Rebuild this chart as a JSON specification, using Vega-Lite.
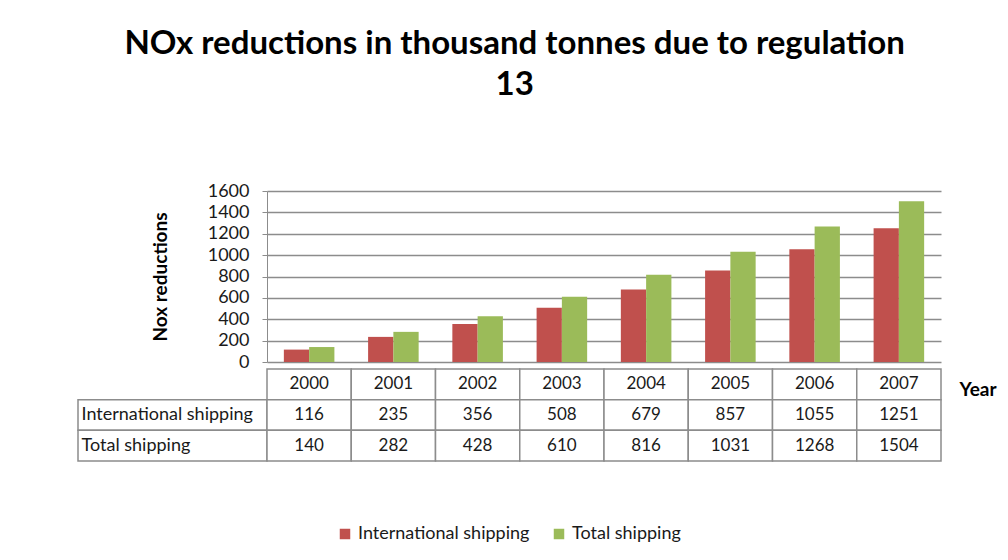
{
  "$schema": "https://vega.github.io/schema/vega-lite/v6.json",
  "background": "white",
  "padding": {"left": 77, "top": 28, "right": 5, "bottom": 5},
  "title": {
    "text": ["NOx reductions in thousand tonnes due to regulation", "13"],
    "fontSize": 33,
    "lineHeight": 41,
    "font": "Lato",
    "fontWeight": "bold",
    "color": "#000000",
    "anchor": "middle",
    "dx": -22,
    "offset": 80
  },
  "datasets": {
    "d": [
      {"year": "2000", "series": "International shipping", "value": 116},
      {"year": "2001", "series": "International shipping", "value": 235},
      {"year": "2002", "series": "International shipping", "value": 356},
      {"year": "2003", "series": "International shipping", "value": 508},
      {"year": "2004", "series": "International shipping", "value": 679},
      {"year": "2005", "series": "International shipping", "value": 857},
      {"year": "2006", "series": "International shipping", "value": 1055},
      {"year": "2007", "series": "International shipping", "value": 1251},
      {"year": "2000", "series": "Total shipping", "value": 140},
      {"year": "2001", "series": "Total shipping", "value": 282},
      {"year": "2002", "series": "Total shipping", "value": 428},
      {"year": "2003", "series": "Total shipping", "value": 610},
      {"year": "2004", "series": "Total shipping", "value": 816},
      {"year": "2005", "series": "Total shipping", "value": 1031},
      {"year": "2006", "series": "Total shipping", "value": 1268},
      {"year": "2007", "series": "Total shipping", "value": 1504}
    ]
  },
  "columns": 2,
  "bounds": "flush",
  "spacing": {"row": 7, "column": 0},
  "concat": [
    {
      "width": 189,
      "height": 171,
      "data": {"values": []},
      "mark": {"type": "point", "opacity": 0},
      "encoding": {}
    },
    {
      "width": 674,
      "height": 171,
      "data": {"name": "d"},
      "mark": {"type": "bar"},
      "encoding": {
        "x": {
          "field": "year",
          "type": "nominal",
          "scale": {"paddingInner": 0.4, "paddingOuter": 0.2},
          "axis": null
        },
        "xOffset": {
          "field": "series",
          "type": "nominal",
          "scale": {"domain": ["International shipping", "Total shipping"]}
        },
        "y": {
          "field": "value",
          "type": "quantitative",
          "scale": {"domain": [0, 1600], "nice": false},
          "axis": {
            "values": [0, 200, 400, 600, 800, 1000, 1200, 1400, 1600],
            "format": "d",
            "title": "Nox reductions",
            "grid": true,
            "gridColor": "#8c8c8c",
            "gridWidth": 1.5,
            "domainColor": "#8c8c8c",
            "tickColor": "#8c8c8c",
            "tickSize": 5,
            "labelFontSize": 18,
            "labelFont": "Lato",
            "labelColor": "#1a1a1a",
            "labelPadding": 13,
            "titleFontSize": 19,
            "titleFont": "Lato",
            "titleFontWeight": "bold",
            "titleColor": "#000000",
            "titlePadding": 37
          }
        },
        "color": {
          "field": "series",
          "type": "nominal",
          "scale": {
            "domain": ["International shipping", "Total shipping"],
            "range": ["#C0504D", "#9BBB59"]
          },
          "legend": {
            "title": null,
            "orient": "none",
            "direction": "horizontal",
            "legendX": 258,
            "legendY": 334,
            "symbolType": "square",
            "symbolSize": 110,
            "symbolStrokeWidth": 0,
            "labelFontSize": 18,
            "labelFont": "Lato",
            "labelColor": "#1a1a1a",
            "labelLimit": 300,
            "columnPadding": 20
          }
        }
      }
    },
    {
      "width": 189,
      "height": 92,
      "data": {"name": "d"},
      "transform": [{"filter": "datum.year === '2000'"}],
      "mark": {"type": "rect", "fill": "white", "stroke": "#8c8c8c", "strokeWidth": 1.5},
      "encoding": {
        "y": {
          "field": "series",
          "type": "nominal",
          "scale": {
            "domain": ["hdr", "International shipping", "Total shipping"],
            "paddingInner": 0,
            "paddingOuter": 0
          },
          "axis": {
            "orient": "left",
            "title": null,
            "domain": false,
            "ticks": false,
            "tickSize": 0,
            "labelPadding": -3,
            "labelAlign": "left",
            "labelOverlap": false,
            "labelFontSize": 18,
            "labelFont": "Lato",
            "labelColor": "#1a1a1a",
            "labelLimit": 300,
            "labelExpr": "datum.value === 'hdr' ? '' : datum.value"
          }
        }
      }
    },
    {
      "width": 674,
      "height": 92,
      "data": {"name": "d"},
      "encoding": {
        "x": {
          "field": "year",
          "type": "nominal",
          "scale": {"paddingInner": 0, "paddingOuter": 0},
          "axis": {
            "orient": "top",
            "labels": false,
            "ticks": false,
            "domain": false,
            "title": "Year",
            "titleX": 692,
            "titleY": 20,
            "titleAlign": "left",
            "titleBaseline": "middle",
            "titleFontSize": 19,
            "titleFont": "Lato",
            "titleFontWeight": "bold",
            "titleColor": "#000000"
          }
        }
      },
      "layer": [
        {
          "transform": [{"filter": "datum.series === 'International shipping'"}],
          "mark": {"type": "rect", "fill": "white", "stroke": "#8c8c8c", "strokeWidth": 1.5},
          "encoding": {
            "y": {
              "datum": "hdr",
              "type": "nominal",
              "scale": {
                "domain": ["hdr", "International shipping", "Total shipping"],
                "paddingInner": 0,
                "paddingOuter": 0
              },
              "axis": null
            }
          }
        },
        {
          "mark": {"type": "rect", "fill": "white", "stroke": "#8c8c8c", "strokeWidth": 1.5},
          "encoding": {
            "y": {"field": "series", "type": "nominal", "axis": null}
          }
        },
        {
          "transform": [{"filter": "datum.series === 'International shipping'"}],
          "mark": {"type": "text", "fontSize": 17, "font": "Lato", "color": "#1a1a1a", "baseline": "middle"},
          "encoding": {
            "y": {"datum": "hdr", "type": "nominal", "axis": null},
            "text": {"field": "year"}
          }
        },
        {
          "mark": {"type": "text", "fontSize": 17, "font": "Lato", "color": "#1a1a1a", "baseline": "middle"},
          "encoding": {
            "y": {"field": "series", "type": "nominal", "axis": null},
            "text": {"field": "value", "type": "quantitative"}
          }
        }
      ]
    }
  ],
  "config": {
    "view": {"stroke": null},
    "font": "Lato"
  }
}
